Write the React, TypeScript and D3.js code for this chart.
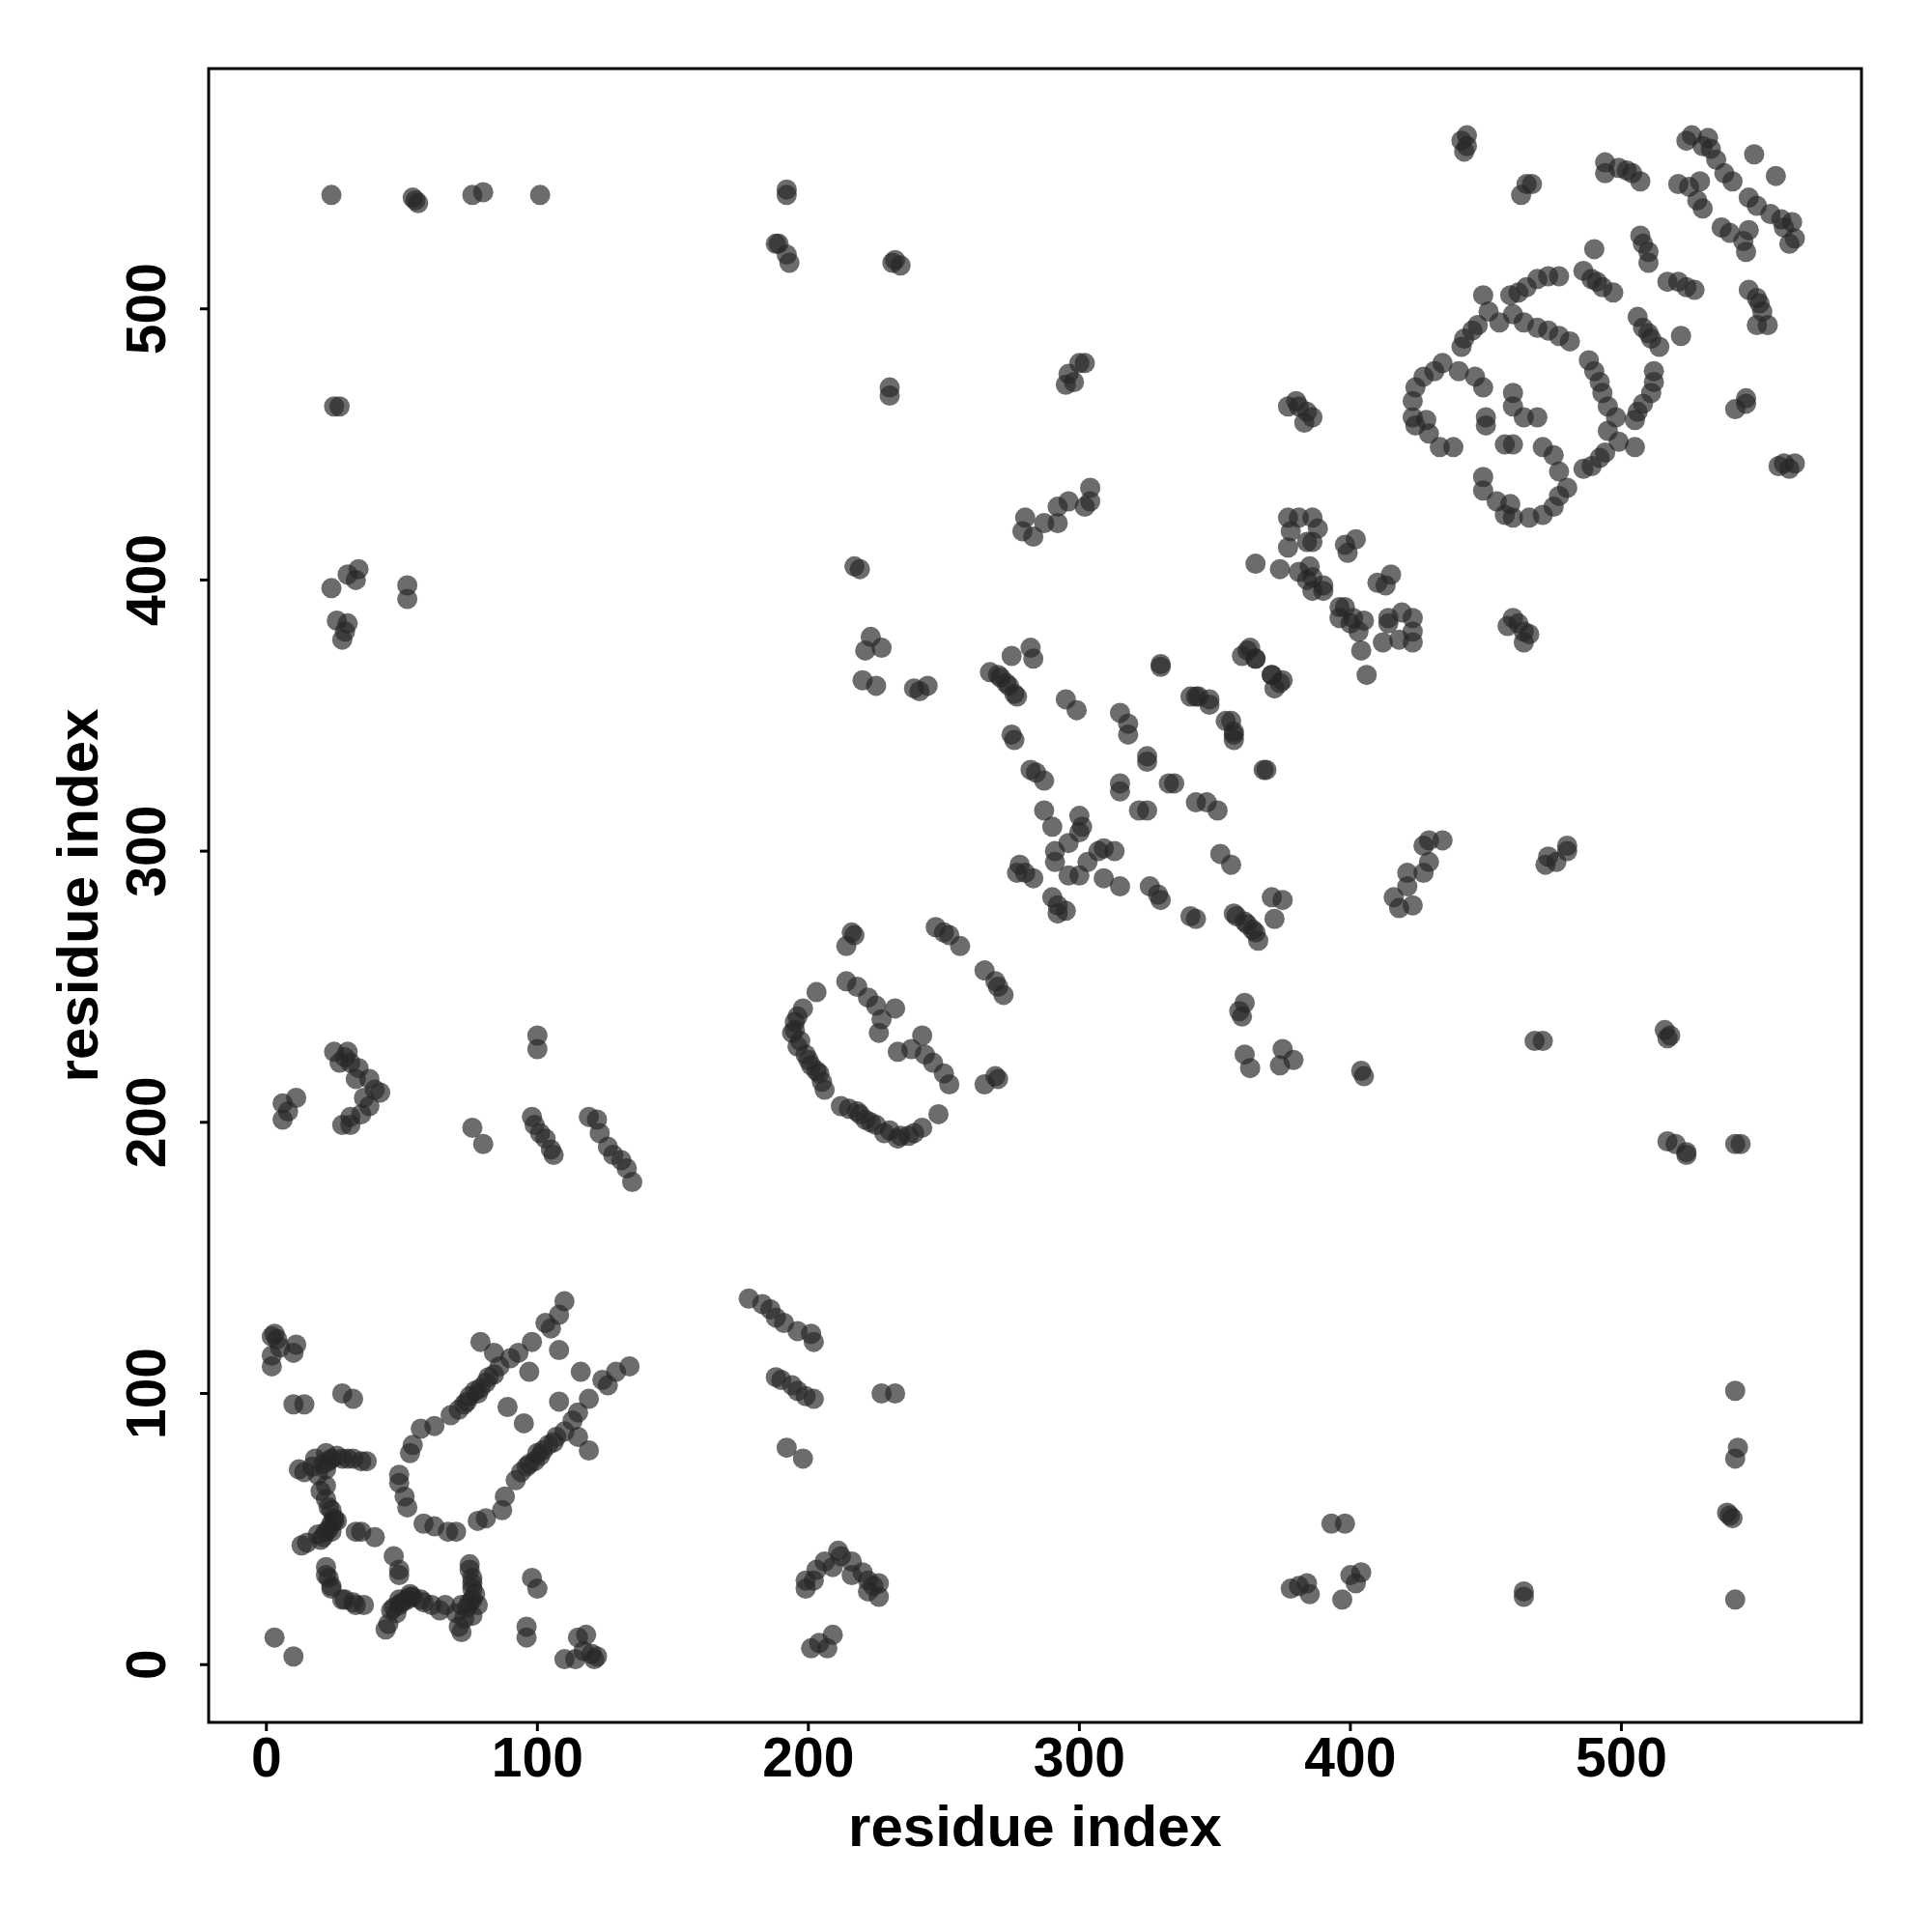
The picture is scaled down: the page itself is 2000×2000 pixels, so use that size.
import React from "react";
import * as d3 from "d3";

// contact map: each pair [i, j] is drawn twice, as (i, j) and (j, i)

// long-range contacts of the N-terminal part
const farContacts: [number, number][] = [
  [24, 542], [54, 541], [56, 539], [55, 540], [76, 542], [80, 543], [101, 542],
  [25, 464], [27, 464],
  [24, 397], [30, 402], [34, 404], [33, 400], [26, 385], [30, 384], [28, 378], [29, 381],
  [52, 398], [52, 393],
  [25, 226], [30, 226], [27, 222], [31, 222], [34, 220], [33, 216], [38, 216], [42, 211],
  [40, 212], [38, 206], [35, 203], [31, 202], [28, 199], [31, 199], [29, 224], [36, 209],
  [6, 207], [11, 209], [6, 201], [8, 204],
  [76, 198], [80, 192],
  [100, 232], [100, 227],
  [98, 202], [99, 199], [101, 196], [103, 194], [105, 190], [106, 188],
  [119, 202], [122, 201], [123, 196], [126, 191], [128, 188], [131, 186], [133, 183], [135, 178],
];

// short-range contacts, residues 0-140
const nTermContacts: [number, number][] = [
  [10, 115], [11, 118], [2, 110], [2, 114], [4, 120], [2, 121], [5, 117], [3, 122],
  [10, 96], [14, 96],
  [28, 100], [32, 98],
  [12, 72], [14, 71], [17, 73], [18, 76], [22, 78], [22, 72], [24, 76], [28, 76], [30, 76],
  [32, 76], [35, 75], [37, 75], [19, 70], [20, 64], [22, 66], [22, 61], [23, 58], [24, 57],
  [25, 54], [23, 50], [24, 49], [19, 48], [20, 46], [15, 45], [13, 44], [25, 53], [26, 53], [22, 49],
  [21, 74], [23, 75], [26, 77], [21, 47], [24, 52],
  [33, 49], [40, 47], [35, 49],
  [22, 36], [23, 32], [24, 28], [24, 29], [22, 33],
  [3, 10],
  [53, 78], [54, 81], [57, 87], [62, 88], [68, 92], [71, 94], [73, 96], [75, 99], [77, 101],
  [79, 102], [81, 104], [84, 107], [86, 110], [90, 113], [93, 115], [98, 119], [103, 126],
  [105, 124], [108, 129], [110, 134], [74, 97], [78, 100], [82, 106],
  [79, 119], [84, 115], [89, 95], [97, 108], [108, 116],
  [49, 70], [51, 62], [52, 58], [49, 67],
];

// contacts among residues 180-400
const midContacts: [number, number][] = [
  [192, 544], [192, 542],
  [189, 524], [192, 520], [193, 517], [188, 524],
  [232, 518], [234, 516], [231, 517],
  [230, 471], [230, 468],
  [300, 480], [302, 480], [296, 476], [295, 472], [298, 473],
  [304, 434], [304, 429], [302, 427], [296, 429], [292, 427], [292, 421], [287, 421],
  [283, 416], [280, 423], [279, 418],
  [217, 405], [219, 404],
  [377, 423], [381, 423], [386, 423], [378, 418], [388, 419], [384, 414], [386, 414],
  [377, 412], [374, 404], [381, 403], [385, 405], [384, 400], [386, 401], [386, 396],
  [390, 396], [390, 398], [398, 413], [402, 415], [399, 410], [365, 406],
  [377, 464], [381, 464], [384, 462], [386, 460], [383, 458], [380, 466],
  [223, 379], [227, 375], [221, 374], [220, 363], [225, 361], [239, 360], [244, 361], [241, 359],
  [282, 375], [283, 371], [275, 372], [267, 366], [270, 365], [271, 364], [273, 362],
  [274, 361], [276, 358], [277, 357],
  [275, 343], [276, 341],
  [284, 329], [287, 326], [282, 330],
  [295, 356], [299, 352],
  [315, 351], [318, 347], [318, 343],
  [315, 325], [315, 322],
  [325, 335], [325, 333],
  [330, 368],
  [343, 357], [348, 356], [354, 348], [357, 344], [357, 341],
  [362, 374], [365, 371], [371, 365], [375, 363], [372, 360],
  [369, 330],
  [300, 313], [301, 309], [300, 307], [290, 309], [287, 315], [291, 300], [291, 296], [296, 303],
  [278, 295], [280, 292], [283, 290], [277, 292],
  [216, 270], [214, 265], [217, 269],
  [247, 272], [252, 269], [256, 265], [250, 270],
  [203, 248],
  [214, 252], [218, 250], [222, 246], [225, 243], [227, 238], [226, 233], [232, 242],
  [198, 242], [195, 237], [194, 233], [196, 228], [199, 225], [201, 221], [204, 218],
  [205, 215], [195, 234], [197, 230], [200, 223], [203, 219], [206, 212], [196, 239],
];

// contacts among residues 420-566
const cTermContacts: [number, number][] = [
  [443, 564], [443, 560], [442, 558], [441, 562],
  [465, 546], [463, 542], [467, 546],
  [494, 554], [502, 551], [504, 550], [507, 547], [494, 550], [499, 552],
  [526, 564], [532, 563], [533, 559], [535, 555], [538, 550], [541, 547], [524, 562], [530, 560],
  [549, 557],
  [521, 546], [525, 545], [529, 547], [528, 540], [530, 537],
  [507, 527], [510, 521], [510, 517], [508, 524],
  [490, 522],
  [486, 514], [489, 511], [493, 508], [497, 506], [491, 510],
  [462, 506], [465, 508], [469, 511], [473, 512], [477, 512], [459, 505],
  [449, 505], [451, 499], [447, 494], [445, 492], [442, 489], [441, 486],
  [455, 495], [460, 498], [464, 495], [469, 493], [473, 492], [477, 490], [481, 488],
  [434, 480], [431, 477], [427, 475], [424, 471], [423, 466], [423, 460], [424, 457],
  [429, 454], [433, 449], [438, 449], [440, 477], [428, 459],
  [446, 475], [449, 471], [460, 469], [460, 464], [450, 460], [450, 457],
];

const tickValues = [0, 100, 200, 300, 400, 500];
const axisRange: [number, number] = [-21.3, 588.6];
const axisTitle = "residue index";

const box = { left: 216, right: 1927, top: 71, bottom: 1783 };
const font = "'Liberation Sans', Arial, sans-serif";

export default function App() {
  const x = d3.scaleLinear().domain(axisRange).range([box.left, box.right]);
  const y = d3.scaleLinear().domain(axisRange).range([box.bottom, box.top]);

  const contacts = [...farContacts, ...nTermContacts, ...midContacts, ...cTermContacts];
  const points = contacts.flatMap(([i, j]) => [[i, j], [j, i]]);

  return (
    <svg
      width={2000}
      height={2000}
      style={{ position: "absolute", left: 0, top: 0, background: "#fff" }}
    >
      <rect x={0} y={0} width={2000} height={2000} fill="#fff" />
      <g>
        {points.map((d, k) => (
          <circle key={k} cx={x(d[0])} cy={y(d[1])} r={10.5} fill="#262626" fillOpacity={0.68} />
        ))}
      </g>

      <rect
        x={box.left}
        y={box.top}
        width={box.right - box.left}
        height={box.bottom - box.top}
        fill="none"
        stroke="#000"
        strokeWidth={3}
      />

      {/* x axis */}
      {tickValues.map((t) => (
        <g key={"x" + t}>
          <line x1={x(t)} x2={x(t)} y1={box.bottom} y2={box.bottom + 9} stroke="#000" strokeWidth={3} />
          <text
            x={x(t)}
            y={1839}
            textAnchor="middle"
            fontFamily={font}
            fontWeight="bold"
            fontSize={57}
          >
            {t}
          </text>
        </g>
      ))}
      <text
        x={(box.left + box.right) / 2}
        y={1911}
        textAnchor="middle"
        fontFamily={font}
        fontWeight="bold"
        fontSize={60}
      >
        {axisTitle}
      </text>

      {/* y axis */}
      {tickValues.map((t) => (
        <g key={"y" + t}>
          <line x1={box.left - 9} x2={box.left} y1={y(t)} y2={y(t)} stroke="#000" strokeWidth={3} />
          <text
            transform={`translate(171, ${y(t)}) rotate(-90)`}
            textAnchor="middle"
            fontFamily={font}
            fontWeight="bold"
            fontSize={57}
          >
            {t}
          </text>
        </g>
      ))}
      <text
        transform={`translate(101, ${(box.top + box.bottom) / 2}) rotate(-90)`}
        textAnchor="middle"
        fontFamily={font}
        fontWeight="bold"
        fontSize={60}
      >
        {axisTitle}
      </text>
    </svg>
  );
}
